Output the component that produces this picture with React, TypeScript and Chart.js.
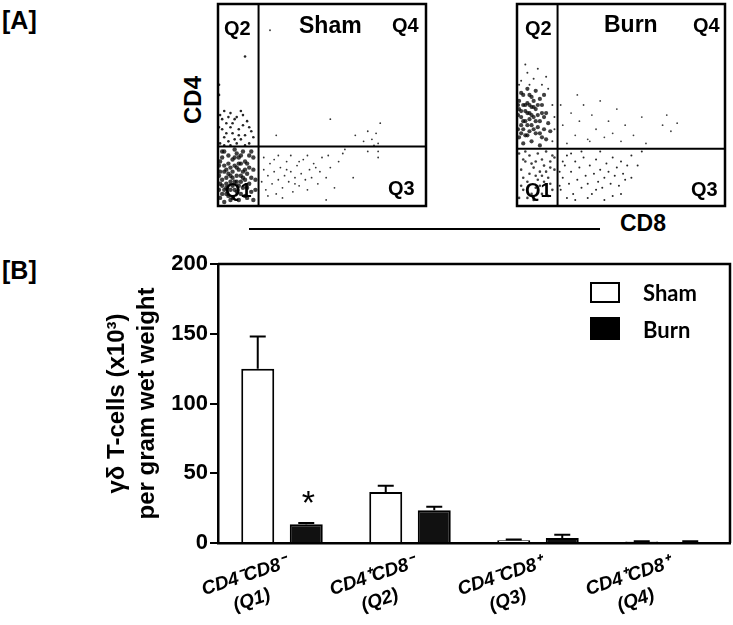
import { useEffect, useRef } from "react";
import { Chart, registerables } from "chart.js";

Chart.register(...registerables);

// ---------------- Panel B data ----------------
const CATEGORIES = [
  ["CD4⁻CD8⁻", "(Q1)"],
  ["CD4⁺CD8⁻", "(Q2)"],
  ["CD4⁻CD8⁺", "(Q3)"],
  ["CD4⁺CD8⁺", "(Q4)"],
];
const SERIES_NAMES = ["Sham", "Burn"];
const SHAM_MEAN = [125, 36.5, 2, 1];
const SHAM_SEM = [23, 4.5, 0.5, 0.3];
const BURN_MEAN = [13.5, 23.5, 3.5, 0.8];
const BURN_SEM = [0.8, 2.5, 2.5, 0.4];
const BURN_SIGNIF = ["*", "", "", ""];
const Y_MIN = 0;
const Y_MAX = 200;
const Y_STEP = 50;
const Y_TITLE = ["γδ T-cells (x10³)", "per gram wet weight"];

// ---------------- Panel A data (flow plots, axis units 0-100) ----------------
const SHAM_GATE = [19.5, 29.4];
const BURN_GATE = [19.5, 28.4];
const QUADRANTS = ["Q1", "Q2", "Q3", "Q4"];
const X_MARKER = "CD8";
const Y_MARKER = "CD4";

const SHAM_Q1_DENSE = [
  [1, 4], [3, 8], [5, 5], [7, 10], [2, 13], [6, 15], [9, 7], [11, 12], [4, 18], [8, 20],
  [12, 17], [14, 9], [1, 22], [5, 25], [10, 24], [13, 22], [16, 14], [15, 19], [3, 27], [8, 28],
  [12, 27], [17, 24], [18, 8], [2, 10], [6, 3], [10, 3], [14, 4], [17, 18], [4, 14], [9, 15],
  [7, 23], [11, 6], [3, 20], [13, 13], [16, 27], [1, 17], [6, 8], [8, 12], [10, 18], [5, 21],
  [15, 25], [12, 9], [2, 6], [18, 13], [7, 17], [9, 26], [4, 11], [11, 21], [14, 16], [17, 3], [3, 2],
  [0.5, 8], [0.5, 15], [0.5, 20], [2, 24], [4, 6], [5, 16], [6, 12], [7, 4], [8, 8], [9, 19],
  [10, 10], [11, 25], [12, 14], [13, 5], [14, 21], [15, 11], [16, 7], [3, 17], [6, 19], [8, 24],
  [1, 11], [4, 9], [7, 14], [10, 21], [2, 27], [9, 12], [11, 15], [13, 18],
];
const SHAM_Q2 = [
  [1, 31], [3, 34], [5, 32], [7, 36], [9, 31], [11, 33], [13, 35], [15, 31], [17, 34], [2, 38],
  [4, 41], [6, 39], [8, 43], [10, 38], [12, 40], [14, 42], [16, 37], [1, 45], [3, 47], [6, 46],
  [9, 44], [11, 47], [4, 36], [7, 41], [2, 43], [10, 35], [13, 30], [5, 44], [8, 33], [12, 45],
  [15, 39], [0.5, 39], [6, 30], [3, 30], [13, 74], [0.5, 60], [0.5, 55],
];
const SHAM_SPARSE = [
  [21, 12], [22, 18], [23, 8], [24, 15], [25, 21], [26, 11], [27, 17], [28, 6], [29, 13], [30, 19],
  [31, 9], [32, 15], [33, 22], [34, 12], [35, 17], [36, 7], [37, 14], [38, 20], [39, 10], [40, 16],
  [41, 23], [42, 13], [43, 8], [44, 18], [45, 14], [46, 21], [48, 11], [49, 17], [50, 24], [52, 14],
  [54, 19], [56, 9], [58, 22], [22, 24], [24, 5], [27, 23], [29, 25], [31, 4], [33, 18], [35, 25],
  [37, 11], [39, 22], [43, 25], [47, 19], [53, 25], [60, 26], [65, 14], [72, 27], [77, 24], [77, 27],
  [52, 3], [66, 35], [70, 32], [72, 37], [74, 33], [76, 36], [77, 31], [78, 41], [61, 28], [75, 30],
  [28, 35], [54, 43], [25, 87],
];
const BURN_Q2_DENSE = [
  [1, 34], [3, 38], [5, 35], [7, 40], [9, 36], [11, 42], [13, 38], [2, 44], [4, 47], [6, 43],
  [8, 49], [10, 45], [12, 50], [14, 46], [1, 52], [3, 55], [5, 51], [7, 54], [9, 57], [11, 53],
  [2, 40], [6, 37], [8, 44], [4, 50], [10, 39], [12, 34], [15, 41], [3, 31], [7, 32], [11, 30],
  [14, 33], [16, 37], [1, 48], [5, 58], [9, 48], [13, 55], [6, 46], [2, 36], [8, 52], [4, 42],
  [0.5, 38], [0.5, 45], [0.5, 50], [2, 47], [3, 42], [5, 40], [6, 50], [7, 45], [9, 42], [10, 50],
  [12, 46], [4, 35], [8, 38], [11, 36], [13, 44], [2, 56], [6, 55], [3, 50], [5, 46], [7, 49],
];
const BURN_Q2_LIGHT = [
  [2, 62], [5, 66], [8, 63], [12, 60], [15, 58], [17, 50], [18, 44], [17, 32], [4, 70], [10, 68],
  [18, 38], [1, 60], [6, 60], [14, 64],
];
const BURN_Q1 = [
  [1, 4], [3, 8], [5, 12], [7, 6], [9, 15], [11, 10], [13, 20], [15, 14], [17, 8], [2, 18],
  [4, 22], [6, 25], [8, 19], [10, 26], [12, 23], [14, 27], [16, 22], [18, 18], [1, 26], [3, 14],
  [5, 4], [7, 21], [9, 9], [11, 17], [13, 12], [15, 5], [17, 25], [2, 10], [6, 16], [10, 13],
  [12, 6], [14, 17], [16, 11], [18, 24], [4, 27], [8, 3], [3, 23], [9, 22], [12, 15], [16, 19],
];
const BURN_Q3 = [
  [21, 8], [22, 14], [23, 20], [24, 25], [25, 11], [26, 17], [27, 6], [28, 22], [29, 13], [30, 19],
  [31, 9], [32, 24], [33, 15], [34, 11], [35, 20], [36, 6], [37, 16], [38, 23], [39, 12], [40, 18],
  [41, 9], [42, 14], [43, 21], [44, 17], [45, 11], [46, 24], [47, 15], [48, 19], [49, 10], [50, 22],
  [51, 16], [52, 13], [53, 20], [55, 25], [28, 3], [34, 4], [42, 3], [50, 6], [55, 14], [58, 20],
  [60, 27], [24, 4], [31, 27], [40, 27], [46, 5], [38, 8], [26, 26], [22, 22], [20.5, 17], [20.5, 10],
];
const BURN_Q4 = [
  [22, 40], [24, 31], [26, 46], [28, 35], [30, 42], [32, 50], [34, 33], [36, 45], [38, 38], [40, 52],
  [42, 34], [44, 42], [46, 36], [48, 48], [50, 32], [52, 40], [56, 35], [60, 44], [62, 31], [70, 40],
  [72, 45], [74, 37], [77, 41], [21, 50], [29, 55], [35, 32],
];

const SANS = "'Liberation Sans', Arial, Helvetica, sans-serif";

const toPts = (arr: number[][]) => arr.map(([x, y]) => ({ x, y }));

const framePlugin = {
  id: "frame",
  afterDraw(chart: any, _args: any, opts: any) {
    const { ctx, chartArea } = chart;
    ctx.save();
    ctx.strokeStyle = "#000";
    ctx.lineWidth = opts.width || 2.5;
    ctx.beginPath();
    if (opts.full) {
      ctx.rect(chartArea.left, chartArea.top, chartArea.right - chartArea.left, chartArea.bottom - chartArea.top);
    } else {
      ctx.moveTo(chartArea.left, chartArea.top);
      ctx.lineTo(chartArea.right, chartArea.top);
      ctx.lineTo(chartArea.right, chartArea.bottom);
    }
    ctx.stroke();
    ctx.restore();
  },
};

function FlowPlot({ left, top, sets, gate }: { left: number; top: number; sets: any[]; gate: number[] }) {
  const ref = useRef<HTMLCanvasElement | null>(null);
  useEffect(() => {
    if (!ref.current) return;
    const datasets: any[] = sets.map((s) => ({
      type: "scatter",
      data: toPts(s.pts),
      pointRadius: s.r,
      pointBackgroundColor: `rgba(0,0,0,${s.a})`,
      pointBorderWidth: 0,
      showLine: false,
    }));
    datasets.push({
      type: "line",
      data: [{ x: gate[0], y: 0 }, { x: gate[0], y: 100 }],
      borderColor: "#000",
      borderWidth: 2,
      pointRadius: 0,
    });
    datasets.push({
      type: "line",
      data: [{ x: 0, y: gate[1] }, { x: 100, y: gate[1] }],
      borderColor: "#000",
      borderWidth: 2,
      pointRadius: 0,
    });
    const chart = new Chart(ref.current, {
      type: "scatter",
      data: { datasets },
      options: {
        animation: false,
        responsive: false,
        events: [],
        layout: { padding: 3 },
        plugins: { legend: { display: false }, tooltip: { enabled: false }, frame: { full: true, width: 2.5 } } as any,
        scales: {
          x: { type: "linear", min: 0, max: 100, display: false },
          y: { type: "linear", min: 0, max: 100, display: false },
        },
      },
      plugins: [framePlugin],
    });
    return () => chart.destroy();
  }, []);
  return (
    <canvas
      ref={ref}
      width={216}
      height={210}
      style={{ position: "absolute", left, top, width: 216, height: 210 }}
    />
  );
}

const errorBarPlugin = {
  id: "errorBars",
  afterDatasetsDraw(chart: any) {
    const { ctx } = chart;
    const y = chart.scales.y;
    chart.data.datasets.forEach((ds: any, di: number) => {
      const meta = chart.getDatasetMeta(di);
      meta.data.forEach((bar: any, i: number) => {
        const v = ds.data[i];
        const e = ds.errors[i];
        const yTop = y.getPixelForValue(v + e);
        ctx.save();
        ctx.strokeStyle = "#000";
        ctx.lineWidth = 2;
        ctx.beginPath();
        ctx.moveTo(bar.x, bar.y);
        ctx.lineTo(bar.x, yTop);
        ctx.moveTo(bar.x - 8, yTop);
        ctx.lineTo(bar.x + 8, yTop);
        ctx.stroke();
        const s = ds.signif ? ds.signif[i] : "";
        if (s) {
          ctx.fillStyle = "#000";
          ctx.font = `34px ${SANS}`;
          ctx.textAlign = "center";
          ctx.textBaseline = "alphabetic";
          ctx.fillText(s, bar.x + 2, yTop - 9);
        }
        ctx.restore();
      });
    });
  },
};

const xLabelPlugin = {
  id: "xLabels",
  afterDraw(chart: any) {
    const { ctx } = chart;
    const x = chart.scales.x;
    const labels = chart.data.labels;
    ctx.save();
    ctx.font = `italic bold 19px ${SANS}`;
    ctx.fillStyle = "#000";
    ctx.textBaseline = "middle";
    labels.forEach((lab: string[], i: number) => {
      const px = x.getPixelForTick(i);
      const w = ctx.measureText(lab[0]).width;
      ctx.save();
      ctx.translate(px + 4, x.top + 20);
      ctx.rotate((-18 * Math.PI) / 180);
      ctx.textAlign = "right";
      ctx.fillText(lab[0], 0, 0);
      ctx.textAlign = "center";
      ctx.fillText(lab[1], -w / 2, 25);
      ctx.restore();
    });
    ctx.restore();
  },
};

function BarPanel() {
  const ref = useRef<HTMLCanvasElement | null>(null);
  useEffect(() => {
    if (!ref.current) return;
    const chart = new Chart(ref.current, {
      type: "bar",
      data: {
        labels: CATEGORIES as any,
        datasets: [
          {
            label: SERIES_NAMES[0],
            data: SHAM_MEAN,
            errors: SHAM_SEM,
            backgroundColor: "#ffffff",
            borderColor: "#000",
            borderWidth: 2,
            categoryPercentage: 0.758,
            barPercentage: 0.68,
          } as any,
          {
            label: SERIES_NAMES[1],
            data: BURN_MEAN,
            errors: BURN_SEM,
            signif: BURN_SIGNIF,
            backgroundColor: "#111111",
            borderColor: "#000",
            borderWidth: 2,
            categoryPercentage: 0.758,
            barPercentage: 0.68,
          } as any,
        ],
      },
      options: {
        animation: false,
        responsive: false,
        events: [],
        layout: { padding: { left: 102, top: 24, right: 3, bottom: 0 } },
        plugins: { legend: { display: false }, tooltip: { enabled: false }, frame: { full: false, width: 2.5 } } as any,
        scales: {
          x: {
            type: "category",
            grid: { display: false, drawTicks: false },
            border: { display: true, color: "#000", width: 2.5 },
            ticks: { display: false },
            afterFit: (s: any) => {
              s.height = 82;
            },
          },
          y: {
            min: Y_MIN,
            max: Y_MAX,
            ticks: {
              stepSize: Y_STEP,
              color: "#000",
              padding: 2,
              font: { family: SANS, size: 22, weight: "bold" },
            },
            grid: { drawOnChartArea: false, drawTicks: true, tickLength: 8, color: "#000", lineWidth: 2 },
            border: { display: true, color: "#000", width: 2.5 },
            title: {
              display: true,
              text: Y_TITLE,
              color: "#000",
              padding: 0,
              font: { family: SANS, size: 24, weight: "bold", lineHeight: 1.25 },
            },
            afterFit: (s: any) => {
              s.width = 116;
            },
          },
        },
      },
      plugins: [framePlugin, errorBarPlugin, xLabelPlugin],
    });
    return () => chart.destroy();
  }, []);
  return (
    <canvas
      ref={ref}
      width={733}
      height={385}
      style={{ position: "absolute", left: 0, top: 240, width: 733, height: 385 }}
    />
  );
}

// Text placed by baseline (Liberation Sans metrics)
function Txt({ x, base, size, text, weight = "bold", family = SANS, asc = 0.905, desc = 0.212 }: any) {
  const top = base - size * (0.5 + (asc - desc) / 2);
  return (
    <div
      style={{
        position: "absolute",
        left: x,
        top,
        fontFamily: family,
        fontSize: size,
        fontWeight: weight as any,
        lineHeight: `${size}px`,
        whiteSpace: "nowrap",
        color: "#000",
      }}
    >
      {text}
    </div>
  );
}

export default function App() {
  const shamSets = [
    { pts: SHAM_Q1_DENSE, r: 2.2, a: 0.75 },
    { pts: SHAM_Q2, r: 1.3, a: 0.85 },
    { pts: SHAM_SPARSE, r: 0.9, a: 0.8 },
  ];
  const burnSets = [
    { pts: BURN_Q2_DENSE, r: 2.1, a: 0.75 },
    { pts: BURN_Q2_LIGHT, r: 1, a: 0.8 },
    { pts: BURN_Q1, r: 1.3, a: 0.75 },
    { pts: BURN_Q3, r: 1, a: 0.85 },
    { pts: BURN_Q4, r: 0.9, a: 0.75 },
  ];
  return (
    <div style={{ position: "absolute", left: 0, top: 0, width: 733, height: 625, background: "#fff", overflow: "hidden" }}>
      <Txt x={2} base={29.5} size={25} text="[A]" />
      <Txt x={2} base={279} size={25} text="[B]" />

      <FlowPlot left={214} top={0} sets={shamSets} gate={SHAM_GATE} />
      <FlowPlot left={513} top={0} sets={burnSets} gate={BURN_GATE} />

      <Txt x={224} base={35} size={20} text={QUADRANTS[1]} />
      <Txt x={299} base={33} size={23} text={SERIES_NAMES[0]} />
      <Txt x={392} base={32} size={20} text={QUADRANTS[3]} />
      <Txt x={225} base={197} size={20} text={QUADRANTS[0]} />
      <Txt x={388} base={195} size={20} text={QUADRANTS[2]} />

      <Txt x={525} base={35} size={20} text={QUADRANTS[1]} />
      <Txt x={604} base={32} size={23} text={SERIES_NAMES[1]} />
      <Txt x={693} base={32} size={20} text={QUADRANTS[3]} />
      <Txt x={525} base={197} size={20} text={QUADRANTS[0]} />
      <Txt x={691} base={196} size={20} text={QUADRANTS[2]} />

      <div
        style={{
          position: "absolute",
          left: 163,
          top: 88,
          width: 60,
          textAlign: "center",
          fontFamily: SANS,
          fontWeight: "bold",
          fontSize: 24,
          lineHeight: "24px",
          transform: "rotate(-90deg)",
        }}
      >
        {Y_MARKER}
      </div>
      <div style={{ position: "absolute", left: 249, top: 228, width: 351, height: 2, background: "#000" }} />
      <div
        style={{
          position: "absolute",
          left: 613,
          top: 212,
          width: 60,
          textAlign: "center",
          fontFamily: SANS,
          fontWeight: "bold",
          fontSize: 23,
          lineHeight: "23px",
        }}
      >
        {X_MARKER}
      </div>

      <BarPanel />

      <div style={{ position: "absolute", left: 590, top: 282, width: 30, height: 21, boxSizing: "border-box", border: "2px solid #000", background: "#fff" }} />
      <div style={{ position: "absolute", left: 590, top: 317, width: 30, height: 23, background: "#000" }} />
      <Txt x={643} base={302} size={22} text={SERIES_NAMES[0]} family="Lato, 'Open Sans', sans-serif" asc={0.987} desc={0.213} />
      <Txt x={643} base={339} size={22} text={SERIES_NAMES[1]} family="Lato, 'Open Sans', sans-serif" asc={0.987} desc={0.213} />
    </div>
  );
}
